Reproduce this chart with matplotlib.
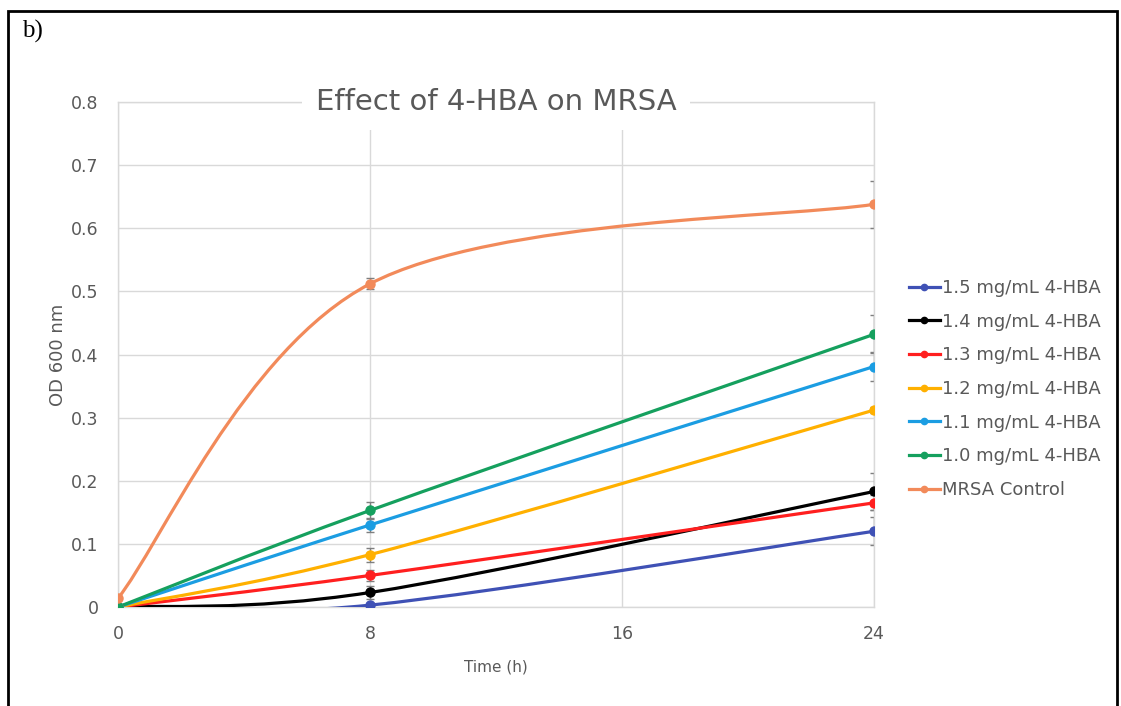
import numpy as np
import matplotlib.pyplot as plt
from matplotlib.path import Path
from matplotlib.patches import PathPatch, Rectangle

plt.rcParams['font.family'] = ['DejaVu Sans']

# data
time_h = [0, 8, 24]
labels = ['1.5 mg/mL 4-HBA', '1.4 mg/mL 4-HBA', '1.3 mg/mL 4-HBA',
          '1.2 mg/mL 4-HBA', '1.1 mg/mL 4-HBA', '1.0 mg/mL 4-HBA',
          'MRSA Control']
od_15 = [0.0, 0.003, 0.120]
od_14 = [0.0, 0.023, 0.183]
od_13 = [0.0, 0.050, 0.165]
od_12 = [0.0, 0.083, 0.312]
od_11 = [0.0, 0.130, 0.381]
od_10 = [0.0, 0.153, 0.432]
od_ctrl = [0.014, 0.512, 0.638]
err_15 = [0.0, 0.003, 0.022]
err_14 = [0.0, 0.010, 0.030]
err_13 = [0.0, 0.008, 0.012]
err_12 = [0.0, 0.011, 0.005]
err_11 = [0.0, 0.011, 0.023]
err_10 = [0.0, 0.013, 0.030]
err_ctrl = [0.0, 0.009, 0.037]
colors = ['#3f51b5', '#000000', '#ff1f1f', '#ffb000', '#1b9de2', '#15a05e', '#f28a5a']

series = [od_15, od_14, od_13, od_12, od_11, od_10, od_ctrl]
errors = [err_15, err_14, err_13, err_12, err_11, err_10, err_ctrl]

GRAY = '#595959'


def smooth_path(xs, ys):
    # Excel-like smoothed line: cubic bezier, tension 1/6
    pts = np.column_stack([xs, ys]).astype(float)
    n = len(pts)
    verts = [pts[0]]
    codes = [Path.MOVETO]
    for i in range(n - 1):
        p0 = pts[max(i - 1, 0)]
        p1 = pts[i]
        p2 = pts[i + 1]
        p3 = pts[min(i + 2, n - 1)]
        c1 = p1 + (p2 - p0) / 6
        c2 = p2 - (p3 - p1) / 6
        verts += [c1, c2, p2]
        codes += [Path.CURVE4] * 3
    return Path(verts, codes)


fig = plt.figure(figsize=(11.21, 7.06), dpi=100)
ax = fig.add_axes([0.1053, 0.1402, 0.6744, 0.7153])

for ys, err, c, lab in zip(series, errors, colors, labels):
    ax.add_patch(PathPatch(smooth_path(time_h, ys), fill=False, edgecolor=c,
                           lw=2.3, zorder=3, capstyle='round'))
    ax.errorbar(time_h, ys, yerr=err, fmt='none', ecolor='#7f7f7f',
                elinewidth=1.0, capsize=3, capthick=1.0, zorder=2)
    ax.plot(time_h, ys, 'o', color=c, ms=6.5, zorder=4)
    ax.plot([], [], '-o', color=c, lw=2.3, ms=4.5, label=lab)

ax.set_xlim(0, 24)
ax.set_ylim(0, 0.8)
ax.set_xticks([0, 8, 16, 24])
ax.set_yticks(np.arange(0, 0.81, 0.1))
ax.set_yticklabels(['0'] + [f'{v:.1f}' for v in np.arange(0.1, 0.81, 0.1)])
ax.grid(True, color='#d9d9d9', lw=1.0)
ax.set_axisbelow(True)
for s in ax.spines.values():
    s.set_color('#d9d9d9')
    s.set_linewidth(1.0)
ax.tick_params(length=0, labelsize=12.5, labelcolor=GRAY)
ax.tick_params(axis='y', pad=14)
ax.tick_params(axis='x', pad=13)
ax.set_xlabel('Time (h)', fontsize=11, color=GRAY, labelpad=12)
ax.set_ylabel('OD 600 nm', fontsize=13, color=GRAY, labelpad=3)

# title in white box over the top gridline
fig.text(0.4425, 0.855, 'Effect of 4-HBA on MRSA', ha='center', va='center',
         fontsize=21, color=GRAY,
         bbox=dict(facecolor='white', edgecolor='none', pad=10))

leg = ax.legend(loc='center left', bbox_to_anchor=(909 / 1121, 1 - 389 / 706),
                bbox_transform=fig.transFigure, frameon=False,
                fontsize=13, labelcolor=GRAY, handlelength=1.7,
                handletextpad=0.1, labelspacing=0.87, borderaxespad=0,
                borderpad=0)

fig.text(0.02, 0.955, 'b)', fontsize=18, family='Liberation Serif', va='center')
fig.patches.append(Rectangle((0.0075, -0.01), 0.989, 0.995, transform=fig.transFigure,
                             fill=False, edgecolor='black', lw=2))

fig.savefig('out.png', dpi=100)
